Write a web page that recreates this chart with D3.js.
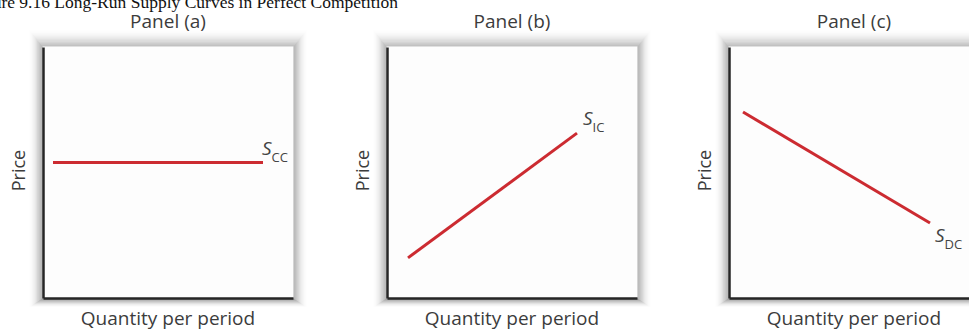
<!DOCTYPE html>
<html>
<head>
<meta charset="utf-8">
<script src="https://cdn.jsdelivr.net/npm/d3@7"></script>
<style>
  html, body { margin: 0; padding: 0; background: #ffffff; overflow: hidden; }
  svg { display: block; }
</style>
</head>
<body>
<div id="chart"></div>
<script>
// ---- data ----
const figureTitle = "Figure 9.16 Long-Run Supply Curves in Perfect Competition";
const panelTitles = ["Panel (a)", "Panel (b)", "Panel (c)"];
const curveMain = ["S", "S", "S"];
const curveSub = ["CC", "IC", "DC"];
const curveX = [[0.4, 8.8], [0.84, 7.6], [0.56, 8.04]];
const curveY = [[5.4, 5.4], [1.6, 6.57], [7.41, 2.99]];
const xAxisLabel = "Quantity per period";
const yAxisLabel = "Price";
const domainX = [0, 10];
const domainY = [0, 10];

// ---- layout ----
const W = 969, H = 333;
const panelLeft = [43, 387, 729];
const boxW = 250, boxTop = 47, boxH = 251;
const labelDx = [-1, 6, 5];
const labelDy = [-7, -8, 19];

const svg = d3.select("#chart").append("svg").attr("width", W).attr("height", H);

// figure title (serif, clipped at the top-left)
svg.append("text")
  .attr("x", 398).attr("y", 8)
  .attr("text-anchor", "end")
  .attr("font-family", "'Liberation Serif', 'Times New Roman', serif")
  .attr("font-size", 17.5)
  .attr("fill", "#111")
  .text(figureTitle);

const textFont = "'Open Sans', 'Noto Sans', sans-serif";
const shadowSteps = d3.range(1, 16);

panelTitles.forEach((title, i) => {
  const x = d3.scaleLinear().domain(domainX).range([panelLeft[i], panelLeft[i] + boxW]);
  const y = d3.scaleLinear().domain(domainY).range([boxTop + boxH, boxTop]);
  const g = svg.append("g");
  const bx = x(domainX[0]), by = y(domainY[1]);
  const bw = x(domainX[1]) - bx, bh = y(domainY[0]) - by;

  // soft shadow built from concentric outlines
  g.selectAll("rect.sh").data(shadowSteps).join("rect")
    .attr("class", "sh")
    .attr("x", k => bx - k * 0.9)
    .attr("y", k => by - k * 1.1)
    .attr("width", k => bw + k * 1.8)
    .attr("height", k => bh + k * 1.1 + k * 0.6)
    .attr("fill", "none")
    .attr("stroke", "#2a2a2a")
    .attr("stroke-width", 1.3)
    .attr("stroke-opacity", k => 0.3 * Math.pow(1 - k / 16, 1.8));
  g.append("rect")
    .attr("x", bx).attr("y", by)
    .attr("width", bw).attr("height", bh)
    .attr("fill", "#fdfdfd");

  // axes (left and bottom lines only)
  const yAxis = d3.axisLeft(y).tickValues([]).tickSizeOuter(0);
  const xAxis = d3.axisBottom(x).tickValues([]).tickSizeOuter(0);
  g.append("g").attr("transform", `translate(${bx},0)`).call(yAxis)
    .select(".domain").attr("stroke", "#262626").attr("stroke-width", 2.5);
  g.append("g").attr("transform", `translate(0,${y(domainY[0])})`).call(xAxis)
    .select(".domain").attr("stroke", "#262626").attr("stroke-width", 2.5);

  // curve
  const pts = curveX[i].map((v, k) => [v, curveY[i][k]]);
  g.append("path")
    .attr("d", d3.line().x(d => x(d[0])).y(d => y(d[1]))(pts))
    .attr("fill", "none").attr("stroke", "#cc2b31").attr("stroke-width", 3);

  // curve label
  const endX = x(curveX[i][1]), endY = y(curveY[i][1]);
  const lbl = g.append("text")
    .attr("x", endX + labelDx[i]).attr("y", endY + labelDy[i])
    .attr("font-family", textFont).attr("fill", "#444");
  lbl.append("tspan").attr("font-size", 19).attr("font-style", "italic").text(curveMain[i]);
  lbl.append("tspan").attr("font-size", 13).attr("dy", 7).text(curveSub[i]);

  // panel title
  const cx = bx + bw / 2;
  g.append("text")
    .attr("x", cx).attr("y", 28)
    .attr("text-anchor", "middle")
    .attr("font-family", textFont).attr("font-size", 19).attr("fill", "#3c3c3c")
    .text(title);

  // x axis label
  g.append("text")
    .attr("x", cx).attr("y", 325)
    .attr("text-anchor", "middle")
    .attr("font-family", textFont).attr("font-size", 19).attr("fill", "#3c3c3c")
    .text(xAxisLabel);

  // y axis label
  const ly = by + bh / 2;
  g.append("text")
    .attr("transform", `translate(${bx - 18},${ly - 2}) rotate(-90)`)
    .attr("text-anchor", "middle")
    .attr("font-family", textFont).attr("font-size", 18).attr("fill", "#3c3c3c")
    .text(yAxisLabel);
});
</script>
</body>
</html>
